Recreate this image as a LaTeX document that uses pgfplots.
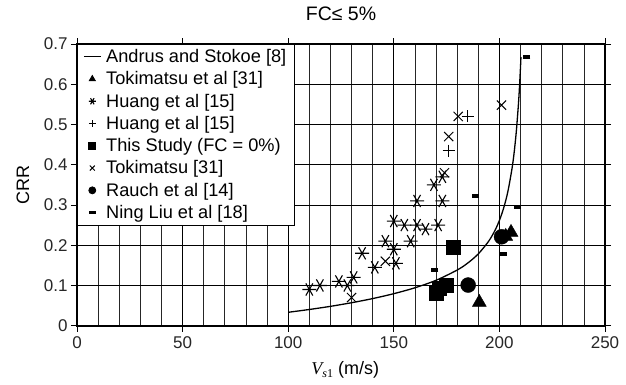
\documentclass[border=0pt]{standalone}
\usepackage{fontspec}
\setmainfont{Liberation Sans}
\newfontfamily\serif{Liberation Serif}
\usepackage{pgfplots}
\pgfplotsset{compat=1.18}
\begin{document}
\begin{tikzpicture}
\useasboundingbox (-77bp,-59.3bp) rectangle (549bp,325.7bp);
\begin{axis}[
  at={(0,0)}, anchor=south west,
  scale only axis, width=528bp, height=281.7bp,
  xmin=0, xmax=250, ymin=0, ymax=0.7,
  xtick={0,50,...,250}, minor xtick={10,20,30,40,60,70,80,90,110,120,130,140,160,170,180,190,210,220,230,240},
  ytick={0,0.1,...,0.7},
  yticklabels={0,0.1,0.2,0.3,0.4,0.5,0.6,0.7},
  xmajorgrids, ymajorgrids, xminorgrids,
  major grid style={black, line width=0.8bp},
  minor grid style={black!85, line width=0.7bp},
  axis line style={line width=1.6bp},
  tick align=outside, major tick length=6bp, minor tick length=0pt,
  tick style={black, line width=0.8bp},
  /pgf/number format/assume math mode=true,
  tick label style={font=\fontsize{17bp}{19bp}\selectfont, text=black!85},
  xticklabel style={yshift=-1bp},
  title={FC≤ 5\%},
  title style={at={(axis description cs:0.5,1)}, anchor=base, yshift=18bp, font=\fontsize{19.5bp}{21bp}\selectfont},
  ylabel={CRR},
  ylabel style={at={(axis description cs:-0.1023,0.5)}, anchor=center, font=\fontsize{18bp}{20bp}\selectfont},
  xlabel={{\serif\itshape V}\raisebox{-0.35ex}{\fontsize{12bp}{12bp}\selectfont\serif\itshape s\upshape 1} (m/s)},
  xlabel style={at={(axis description cs:0.508,-0.157)}, anchor=center, font=\fontsize{18bp}{20bp}\selectfont},
  legend cell align=left,
  legend image post style={mark size=3.5bp, line width=0.8bp},
  legend style={at={(0,1)}, anchor=north west, draw=black, line width=0.8bp, fill=white,
    font=\fontsize{18.2bp}{19bp}\selectfont, row sep=3.6bp, inner xsep=6bp, inner ysep=3bp,
    /tikz/every odd column/.append style={column sep=3bp}},
  clip=true,
]
\addplot[black, line width=1.3bp, no marks, smooth] coordinates {
(100,0.0333) (110,0.0403) (120,0.0481) (130,0.0571) (140,0.0674) (150,0.0796)
(160,0.0942) (170,0.1128) (180,0.1383) (185,0.1556) (190,0.1784) (195,0.2106)
(198,0.2379) (200,0.2616) (202,0.2921) (204,0.3331) (206,0.3915) (207,0.4312)
(208,0.4822) (209,0.5498) (209.5,0.5926) (210,0.644) (210.2,0.6675)
};
\addlegendentry{Andrus and Stokoe [8]}
\addplot[only marks, mark=triangle*, mark size=8bp, black] coordinates {
(190.5,0.058) (205.5,0.232) (203,0.222)
};
\addlegendentry{Tokimatsu et al [31]}
\addplot[only marks, mark=asterisk, mark size=7bp, black, mark options={rotate=90, line width=1.1bp}] coordinates {
(110,0.09) (115,0.10) (124,0.11) (128,0.10) (131,0.12) (135,0.18) (141,0.145)
(146,0.21) (150,0.19) (151,0.155) (150,0.26) (155,0.25) (158,0.21) (161,0.25)
(161,0.31) (165,0.24) (169,0.35) (173,0.31) (173,0.37) (171,0.25)
};
\addlegendentry{Huang et al [15]}
\addplot[only marks, mark=+, mark size=6bp, black, line width=0.8bp] coordinates {
(176,0.435) (185,0.52)
};
\addlegendentry{Huang et al [15]}
\addplot[only marks, mark=square*, mark size=7bp, black] coordinates {
(170.2,0.08) (171.5,0.092) (175,0.101) (178.2,0.196)
};
\addlegendentry{This Study (FC = 0\%)}
\addplot[only marks, mark=x, mark size=6.5bp, black, mark options={line width=1bp}] coordinates {
(130,0.07) (146,0.16) (176,0.47) (180.5,0.52) (201,0.548) (174,0.38)
};
\addlegendentry{Tokimatsu [31]}
\addplot[only marks, mark=*, mark size=7.5bp, black] coordinates {
(185.2,0.101) (201,0.221)
};
\addlegendentry{Rauch et al [14]}
\addplot[only marks, mark=-, mark size=3.5bp, black, mark options={line width=3.5bp}] coordinates {
(169.4,0.138) (188.8,0.322) (201.8,0.178) (208.5,0.295) (213,0.668)
};
\addlegendentry{Ning Liu et al [18]}
\end{axis}
\end{tikzpicture}
\end{document}
